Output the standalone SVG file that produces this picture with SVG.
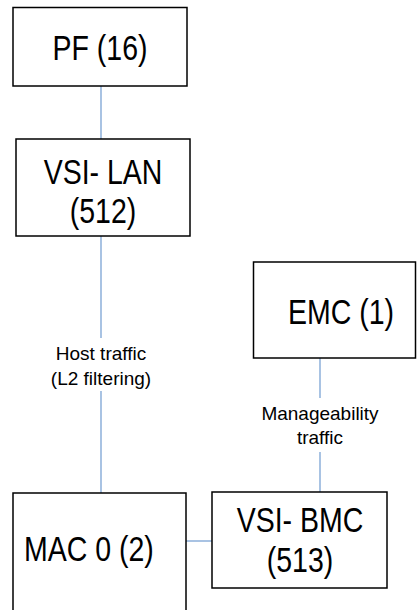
<svg xmlns="http://www.w3.org/2000/svg" width="417" height="610" viewBox="0 0 417 610">
<style>
.box{fill:#fff;stroke:#000;stroke-width:1.5}
.big{font-family:"Liberation Sans",Arial,sans-serif;font-size:28.5px;fill:#000;text-anchor:middle}
.small{font-family:"Liberation Sans",Arial,sans-serif;font-size:19px;fill:#000;text-anchor:middle}
.conn{stroke:#6f9bd1;stroke-width:1.2;fill:none}
</style>
<rect width="417" height="610" fill="#fff"/>
<g id="connectors">
<line class="conn" x1="101" y1="86" x2="101" y2="139"/>
<line class="conn" x1="101" y1="236" x2="101" y2="338"/>
<line class="conn" x1="101" y1="391" x2="101" y2="493"/>
<line class="conn" x1="320" y1="358" x2="320" y2="398"/>
<line class="conn" x1="320" y1="452" x2="320" y2="492"/>
<line class="conn" x1="186" y1="541" x2="212" y2="541"/>
<text class="small" x="101" y="360">Host traffic</text>
<text class="small" x="101" y="385">(L2 filtering)</text>
<text class="small" x="320" y="420">Manageability</text>
<text class="small" x="320" y="444">traffic</text>
</g>
<g id="pf">
<rect class="box" x="13" y="7.5" width="174" height="78.5"/>
<text class="big" transform="translate(100,60) scale(1,1.2)">PF (16)</text>
</g>
<g id="vsi-lan">
<rect class="box" x="16" y="139" width="174" height="97"/>
<text class="big" transform="translate(103,184) scale(1,1.2)">VSI- LAN</text>
<text class="big" transform="translate(103,223) scale(1,1.2)">(512)</text>
</g>
<g id="emc">
<rect class="box" x="253.5" y="262" width="162" height="96"/>
<text class="big" transform="translate(341,324) scale(1,1.2)">EMC (1)</text>
</g>
<g id="mac0">
<rect class="box" x="13" y="493" width="173" height="130"/>
<text class="big" transform="translate(24,561) scale(1,1.2)" style="text-anchor:start">MAC 0 (2)</text>
</g>
<g id="vsi-bmc">
<rect class="box" x="212" y="492" width="175" height="96"/>
<text class="big" transform="translate(300,532) scale(1,1.2)">VSI- BMC</text>
<text class="big" transform="translate(300,572) scale(1,1.2)">(513)</text>
</g>
</svg>
